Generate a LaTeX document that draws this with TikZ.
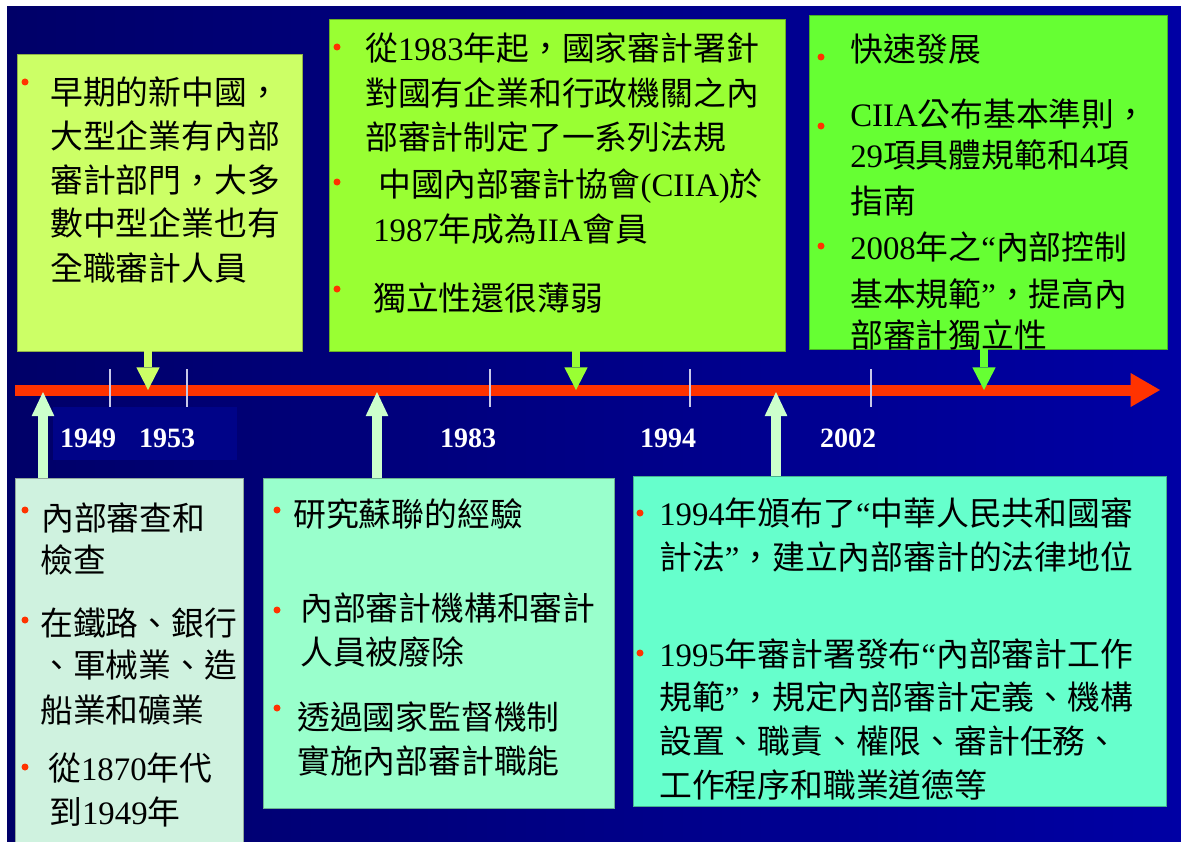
\documentclass[tikz,border=0pt]{standalone}
\usepackage{fontspec}
\newfontfamily\cjkfont{Noto Sans CJK TC}
\newfontfamily\latfont{Liberation Serif}
\newcommand\latn[1]{{\latfont #1}}
\usetikzlibrary{arrows.meta,fit}
\definecolor{bgA}{HTML}{000068}
\definecolor{bgB}{HTML}{0000A4}
\definecolor{bgpatch}{HTML}{000388}
\definecolor{redc}{HTML}{FF3300}
\definecolor{colA}{HTML}{CCFF66}
\definecolor{colB}{HTML}{99FF33}
\definecolor{colC}{HTML}{66FF33}
\definecolor{colD}{HTML}{CFF2DF}
\definecolor{colE}{HTML}{99FFCC}
\definecolor{colF}{HTML}{66FFCC}
\definecolor{upc}{HTML}{CCFFCC}
\definecolor{tickc}{HTML}{C8C8E8}
\begin{document}
\begin{tikzpicture}[x=0.75pt,y=-0.75pt,
  box/.style={fit=#1, inner sep=0pt, outer sep=0pt, line width=0.75pt},
  txt/.style={inner sep=0pt, anchor=base west, text=black,
    font=\cjkfont\fontsize{24.6pt}{30pt}\selectfont},
  year/.style={inner sep=0pt, anchor=base, text=white,
    font=\latfont\bfseries\fontsize{21pt}{24pt}\selectfont},
  bul/.style={fill=redc},
  downarr/.style={draw=#1, line width=6pt,
    -{Triangle[width=17.5pt,length=17pt,line width=0pt]}},
  uparr/.style={draw=upc, line width=7pt,
    -{Triangle[width=17pt,length=18pt,line width=0pt]}},
  tick/.style={draw=tickc, line width=1.5pt}
]
\useasboundingbox (0,0) rectangle (1181,842);
\fill[white] (0,0) rectangle (1181,842);
\shade[left color=bgA, right color=bgB, middle color=bgA!50!bgB] (7,7) rectangle (1181,842);
\fill[bgpatch] (53,407) rectangle (237,460);

% boxes
\path (17,55) coordinate (a0) (302,351) coordinate (a9);
\path (329,20) coordinate (b0) (785,351) coordinate (b9);
\path (809,16) coordinate (c0) (1167,349) coordinate (c9);
\path (15,478) coordinate (d0) (243,850) coordinate (d9);
\path (263,478) coordinate (e0) (614,808) coordinate (e9);
\path (633,476) coordinate (f0) (1166,806) coordinate (f9);
\node[box=(a0)(a9), fill=colA, draw=colA!70!black] (boxA) {};
\node[box=(b0)(b9), fill=colB, draw=colB!70!black] (boxB) {};
\node[box=(c0)(c9), fill=colC, draw=colC!70!black] (boxC) {};
\node[box=(d0)(d9), fill=colD, draw=colD!70!black] (boxD) {};
\node[box=(e0)(e9), fill=colE, draw=colE!70!black] (boxE) {};
\node[box=(f0)(f9), fill=colF, draw=colF!70!black] (boxF) {};

% timeline
\coordinate (tl) at (15,390);
\coordinate (tr) at (1160,390);
\draw[draw=redc, line width=8.25pt,
  -{Triangle[width=25.5pt,length=22pt,line width=0pt]}] (tl) -- (tr);
\foreach \x in {110,187,490,690,871} \draw[tick] (\x,369) -- (\x,407);

\node[year] (y1949) at (88,447) {1949};
\node[year] (y1953) at (167,447) {1953};
\node[year] (y1983) at (468,447) {1983};
\node[year] (y1994) at (668,447) {1994};
\node[year] (y2002) at (848,447) {2002};

% arrows
\coordinate (tA) at (148,390);
\coordinate (tB) at (576,390);
\coordinate (tC) at (984,390);
\coordinate (tD) at (43,392);
\coordinate (tE) at (377,392);
\coordinate (tF) at (776,392);
\draw[downarr=colA] (boxA.south -| tA) -- (tA);
\draw[downarr=colB] (boxB.south -| tB) -- (tB);
\draw[downarr=colC] (boxC.south -| tC) -- (tC);
\draw[uparr] (boxD.north -| tD) -- (tD);
\draw[uparr] (boxE.north -| tE) -- (tE);
\draw[uparr] (boxF.north -| tF) -- (tF);

% box A text
\fill[bul] (25,82) circle (3.5);
\node[txt] (a1) at (50,104) {早期的新中國，};
\node[txt] (a2) at (50,148) {大型企業有內部};
\node[txt] (a3) at (50,192) {審計部門，大多};
\node[txt] (a4) at (50,235) {數中型企業也有};
\node[txt] (a5) at (50,280) {全職審計人員};

% box B text
\fill[bul] (337,47) circle (3.5);
\fill[bul] (337,182) circle (3.5);
\fill[bul] (337,289) circle (3.5);
\node[txt] (b1) at (365,61) {從\latn{1983}年起，國家審計署針};
\node[txt] (b2) at (365,105) {對國有企業和行政機關之內};
\node[txt] (b3) at (365,149) {部審計制定了一系列法規};
\node[txt] (b4) at (378,196) {中國內部審計協會\latn{(CIIA)}於};
\node[txt] (b5) at (373,241) {\latn{1987}年成為\latn{IIA}會員};
\node[txt] (b6) at (373,310) {獨立性還很薄弱};

% box C text
\fill[bul] (821,57) circle (3.5);
\fill[bul] (821,126) circle (3.5);
\fill[bul] (821,246) circle (3.5);
\node[txt] (c1) at (850,62) {快速發展};
\node[txt] (c2) at (850,126) {\latn{CIIA}公布基本準則，};
\node[txt] (c3) at (850,167) {\latn{29}項具體規範和\latn{4}項};
\node[txt] (c4) at (850,213) {指南};
\node[txt] (c5) at (850,259) {\latn{2008}年之\latn{“}內部控制};
\node[txt] (c6) at (850,306) {基本規範\latn{”}，提高內};
\node[txt] (c7) at (850,347) {部審計獨立性};

% box D text
\fill[bul] (25,510) circle (3.5);
\fill[bul] (25,620) circle (3.5);
\fill[bul] (25,767) circle (3.5);
\node[txt] (d1) at (41,530) {內部審查和};
\node[txt] (d2) at (40,572) {檢查};
\node[txt] (d3) at (40,635) {在鐵路、銀行};
\node[txt] (d4) at (40,677) {、軍械業、造};
\node[txt] (d5) at (40,722) {船業和礦業};
\node[txt] (d6) at (48,780) {從\latn{1870}年代};
\node[txt] (d7) at (49,824) {到\latn{1949}年};

% box E text
\fill[bul] (277,510) circle (3.5);
\fill[bul] (277,610) circle (3.5);
\fill[bul] (277,708) circle (3.5);
\node[txt] (e1) at (293,526) {研究蘇聯的經驗};
\node[txt] (e2) at (300,620) {內部審計機構和審計};
\node[txt] (e3) at (300,664) {人員被廢除};
\node[txt] (e4) at (297,729) {透過國家監督機制};
\node[txt] (e5) at (297,773) {實施內部審計職能};

% box F text
\fill[bul] (640,513) circle (3.5);
\fill[bul] (640,653) circle (3.5);
\node[txt] (f1) at (659,525) {\latn{1994}年頒布了\latn{“}中華人民共和國審};
\node[txt] (f2) at (659,569) {計法\latn{”}，建立內部審計的法律地位};
\node[txt] (f3) at (659,666) {\latn{1995}年審計署發布\latn{“}內部審計工作};
\node[txt] (f4) at (659,709) {規範\latn{”}，規定內部審計定義、機構};
\node[txt] (f5) at (659,753) {設置、職責、權限、審計任務、};
\node[txt] (f6) at (659,797) {工作程序和職業道德等};
\end{tikzpicture}
\end{document}
